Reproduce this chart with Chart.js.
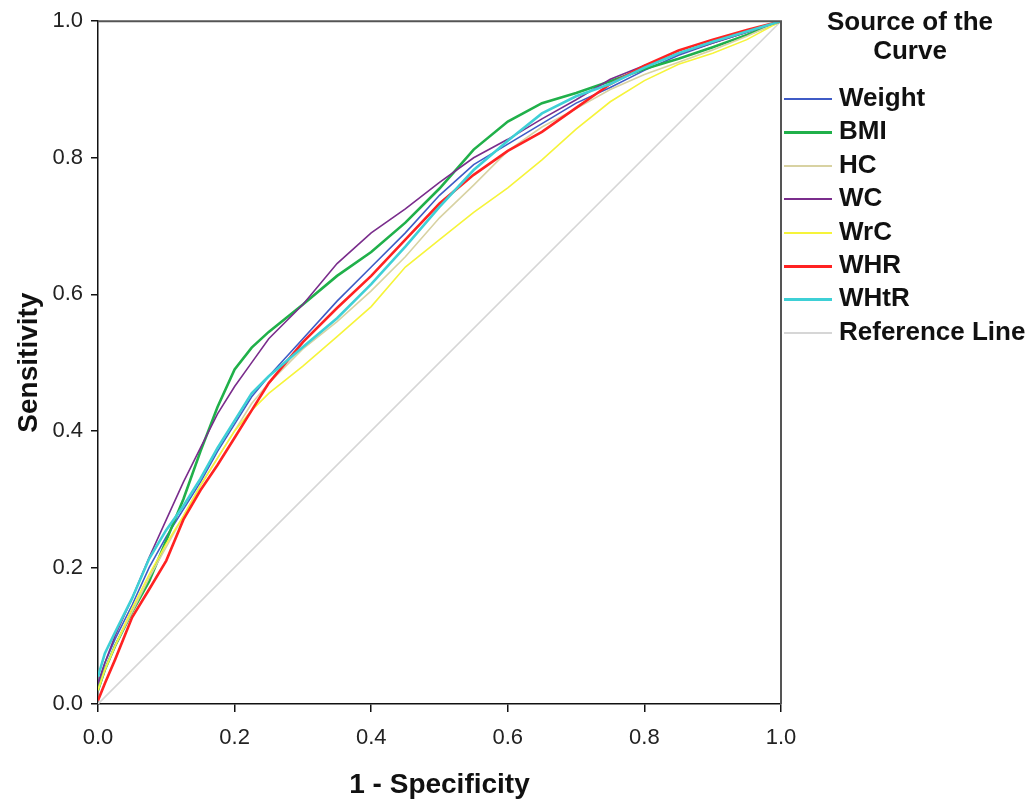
<!DOCTYPE html>
<html lang="en">
<head>
    <meta charset="UTF-8">
    <title>ROC Curves</title>
    <script src="https://cdn.jsdelivr.net/npm/chart.js@4.4.0/dist/chart.umd.min.js"></script>
    <style>
        body { margin: 0; background: #fff; }
        #wrap { position: relative; width: 1036px; height: 804px; }
        #legend { position: absolute; left: 780px; top: 0; width: 256px; font-family: "Liberation Sans", Arial, sans-serif; font-weight: bold; font-size: 26px; color: #111; }
        #legend .title { position: absolute; left: 30px; width: 200px; top: 7px; text-align: center; line-height: 29px; }
        #legend .item { position: absolute; left: 4px; height: 30px; line-height: 30px; white-space: nowrap; }
        #legend .swatch { display: inline-block; width: 48px; vertical-align: middle; margin-right: 7px; }
    </style>
</head>
<body>
<div id="wrap">
    <canvas id="roc" width="1036" height="804"></canvas>
    <div id="legend"><div class="title">Source of the<br>Curve</div></div>
</div>
<script>
// 1 - specificity grid shared by all curves
const fpr = [0, 0.01, 0.025, 0.05, 0.075, 0.1, 0.125, 0.15, 0.175, 0.2, 0.225, 0.25, 0.3, 0.35, 0.4, 0.45, 0.5, 0.55, 0.6, 0.65, 0.7, 0.75, 0.8, 0.85, 0.9, 0.95, 1.0];

const weightTpr = [0.03, 0.06, 0.095, 0.145, 0.2, 0.245, 0.285, 0.325, 0.37, 0.41, 0.45, 0.48, 0.535, 0.59, 0.64, 0.69, 0.745, 0.79, 0.82, 0.85, 0.88, 0.903, 0.928, 0.95, 0.968, 0.984, 1.0];
const bmiTpr    = [0.02, 0.05, 0.085, 0.135, 0.18, 0.24, 0.3, 0.37, 0.435, 0.49, 0.522, 0.545, 0.585, 0.627, 0.662, 0.705, 0.755, 0.812, 0.853, 0.88, 0.895, 0.912, 0.93, 0.945, 0.962, 0.98, 1.0];
const hcTpr     = [0.02, 0.05, 0.085, 0.135, 0.185, 0.23, 0.275, 0.32, 0.36, 0.4, 0.44, 0.47, 0.52, 0.56, 0.605, 0.655, 0.712, 0.76, 0.81, 0.845, 0.872, 0.9, 0.922, 0.94, 0.958, 0.978, 1.0];
const wcTpr     = [0.03, 0.06, 0.1, 0.155, 0.215, 0.27, 0.325, 0.375, 0.425, 0.465, 0.5, 0.535, 0.585, 0.645, 0.69, 0.725, 0.764, 0.8, 0.827, 0.857, 0.885, 0.915, 0.935, 0.952, 0.968, 0.984, 1.0];
const wrcTpr    = [0.02, 0.05, 0.085, 0.14, 0.19, 0.235, 0.275, 0.32, 0.36, 0.4, 0.43, 0.455, 0.495, 0.538, 0.582, 0.64, 0.68, 0.72, 0.756, 0.797, 0.842, 0.882, 0.913, 0.937, 0.953, 0.973, 1.0];
const whrTpr    = [0.005, 0.03, 0.065, 0.127, 0.168, 0.21, 0.27, 0.313, 0.35, 0.39, 0.43, 0.47, 0.53, 0.58, 0.627, 0.68, 0.733, 0.775, 0.81, 0.838, 0.873, 0.908, 0.935, 0.957, 0.973, 0.987, 1.0];
const whtrTpr   = [0.04, 0.074, 0.105, 0.155, 0.213, 0.255, 0.29, 0.33, 0.375, 0.415, 0.455, 0.48, 0.523, 0.565, 0.615, 0.67, 0.728, 0.782, 0.825, 0.865, 0.89, 0.908, 0.932, 0.953, 0.97, 0.985, 1.0];

const refX = [0, 1];
const refY = [0, 1];

const axisTicks = [0, 0.2, 0.4, 0.6, 0.8, 1.0];

const series = [
    { label: 'Weight', y: weightTpr, color: '#3f5bc6', width: 1.6, order: 7 },
    { label: 'BMI', y: bmiTpr, color: '#20b04a', width: 2.6, order: 6 },
    { label: 'HC', y: hcTpr, color: '#d8d2a2', width: 1.6, order: 5 },
    { label: 'WC', y: wcTpr, color: '#7a2d8c', width: 1.6, order: 4 },
    { label: 'WrC', y: wrcTpr, color: '#f6f43a', width: 1.6, order: 3 },
    { label: 'WHR', y: whrTpr, color: '#ff2222', width: 2.6, order: 2 },
    { label: 'WHtR', y: whtrTpr, color: '#3ed0d6', width: 2.6, order: 1 }
];

const toPoints = (xs, ys) => xs.map((x, i) => ({ x: x, y: ys[i] }));

const datasets = series.map(s => ({
    label: s.label,
    data: toPoints(fpr, s.y),
    borderColor: s.color,
    borderWidth: s.width,
    pointRadius: 0,
    tension: 0,
    fill: false,
    order: s.order
}));
datasets.push({
    label: 'Reference Line',
    data: toPoints(refX, refY),
    borderColor: '#d6d6d6',
    borderWidth: 1.6,
    pointRadius: 0,
    fill: false,
    order: 9
});

// box around the plot (top and right edges)
const frame = {
    id: 'frame',
    afterDatasetsDraw(chart) {
        const a = chart.chartArea, ctx = chart.ctx;
        ctx.save();
        ctx.strokeStyle = '#555';
        ctx.lineWidth = 2;
        ctx.beginPath();
        ctx.moveTo(a.left, a.top);
        ctx.lineTo(a.right, a.top);
        ctx.lineTo(a.right, a.bottom);
        ctx.stroke();
        ctx.restore();
    }
};

Chart.defaults.font.family = '"Liberation Sans", Arial, sans-serif';
Chart.defaults.color = '#222';

new Chart(document.getElementById('roc'), {
    type: 'line',
    data: { datasets: datasets },
    options: {
        responsive: false,
        animation: false,
        layout: { padding: { left: 0, top: 18, right: 255, bottom: 0 } },
        plugins: { legend: { display: false }, tooltip: { enabled: false } },
        scales: {
            x: {
                type: 'linear', min: 0, max: 1,
                afterFit: s => { s.height = 100; },
                afterBuildTicks: s => { s.ticks = axisTicks.map(v => ({ value: v })); },
                grid: { drawOnChartArea: false, drawTicks: true, tickLength: 8, color: '#111', lineWidth: 1.5 },
                border: { display: true, color: '#111', width: 1.5 },
                ticks: { font: { size: 22 }, padding: 13, maxRotation: 0, callback: v => v.toFixed(1) },
                title: { display: true, text: '1 - Specificity', font: { size: 28, weight: 'bold' }, color: '#111', padding: { top: 0, bottom: 2 } }
            },
            y: {
                type: 'linear', min: 0, max: 1,
                afterFit: s => { s.width = 98; },
                afterBuildTicks: s => { s.ticks = axisTicks.map(v => ({ value: v })); },
                grid: { drawOnChartArea: false, drawTicks: true, tickLength: 7, color: '#111', lineWidth: 1.5 },
                border: { display: true, color: '#111', width: 1.5 },
                ticks: { font: { size: 22 }, padding: 8, callback: v => v.toFixed(1) },
                title: { display: true, text: 'Sensitivity', font: { size: 28, weight: 'bold' }, color: '#111', padding: { top: 12, bottom: 0 } }
            }
        }
    },
    plugins: [frame]
});

// legend on the right
const legend = document.getElementById('legend');
const legendItems = series.map(s => ({ label: s.label, color: s.color, h: s.width > 2 ? 3 : 2 }))
    .concat([{ label: 'Reference Line', color: '#d6d6d6', h: 2 }]);
legendItems.forEach((it, i) => {
    const div = document.createElement('div');
    div.className = 'item';
    div.style.top = (82 + i * 33.4) + 'px';
    div.innerHTML = '<span class="swatch" style="height:' + it.h + 'px;background:' + it.color + '"></span>' + it.label;
    legend.appendChild(div);
});
</script>
</body>
</html>
